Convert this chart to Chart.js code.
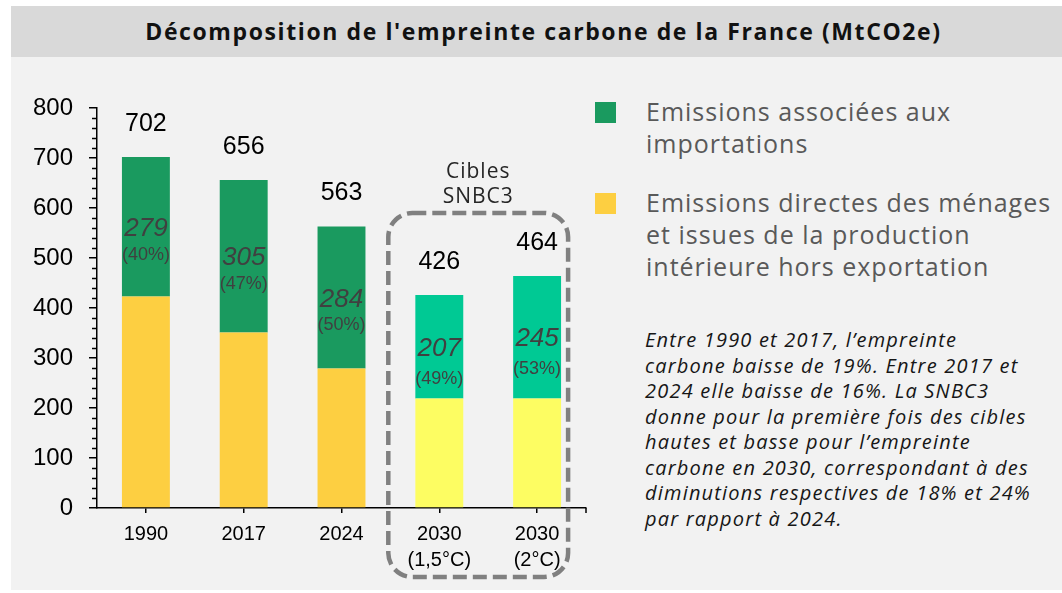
<!DOCTYPE html>
<html>
<head>
<meta charset="utf-8">
<script src="https://cdn.jsdelivr.net/npm/chart.js@4.4.1/dist/chart.umd.min.js"></script>
<style>
  body { margin: 0; background: #fff; width: 1062px; height: 593px; overflow: hidden; position: relative; font-family: "Open Sans", sans-serif; }
  #panel { position: absolute; left: 11px; top: 57px; right: 0; height: 533px; background: #f2f2f2; }
  #title { position: absolute; left: 11px; top: 6px; right: 0; height: 51px; background: #d9d9d9;
           line-height: 51px; text-align: center; font-weight: bold; font-size: 23px; letter-spacing: 1.6px; color: #111; padding-left: 14px; box-sizing: border-box; }
  #wrap { position: absolute; left: 0; top: 0; width: 1062px; height: 593px; }
  .sq { position: absolute; left: 595px; width: 21px; height: 21px; }
  .leg { position: absolute; left: 646px; font-size: 25px; letter-spacing: 1px; line-height: 32px; color: #595959; white-space: nowrap; }
  #note { position: absolute; left: 645px; top: 327px; font-size: 20px; letter-spacing: 1.2px; line-height: 25.5px; font-style: italic; color: #161616; white-space: nowrap; }
</style>
</head>
<body>
<div id="panel"></div>
<div id="title">Décomposition de l'empreinte carbone de la France (MtCO2e)</div>
<div class="sq" style="top:102px;background:#1a9a5f"></div>
<div class="leg" style="top:95px">Emissions associées aux<br>importations</div>
<div class="sq" style="top:193px;background:#fdcf41"></div>
<div class="leg" style="top:186px">Emissions directes des ménages<br>et issues de la production<br>intérieure hors exportation</div>
<div id="note">Entre 1990 et 2017, l’empreinte<br>carbone baisse de 19%. Entre 2017 et<br>2024 elle baisse de 16%. La SNBC3<br>donne pour la première fois des cibles<br>hautes et basse pour l’empreinte<br>carbone en 2030, correspondant à des<br>diminutions respectives de 18% et 24%<br>par rapport à 2024.</div>
<div id="wrap"><canvas id="myChart"></canvas></div>
<script>
const categories = ['1990', '2017', '2024', ['2030', '(1,5°C)'], ['2030', '(2°C)']];
const domestic = [423, 351, 279, 219, 219];
const imports = [279, 305, 284, 207, 245];
const totals = [702, 656, 563, 426, 464];
const shares = ['(40%)', '(47%)', '(50%)', '(49%)', '(53%)'];
const yTicks = [0, 100, 200, 300, 400, 500, 600, 700, 800];

const ARIAL = "Arial, 'Liberation Sans', sans-serif";

const extras = {
    id: 'extras',
    afterDatasetsDraw(chart) {
        const ctx = chart.ctx;
        const x = chart.scales.x, y = chart.scales.y;
        const meta = chart.getDatasetMeta(1);
        ctx.save();
        ctx.textAlign = 'center';
        ctx.textBaseline = 'middle';
        meta.data.forEach((bar, i) => {
            ctx.fillStyle = '#000';
            ctx.font = '25px ' + ARIAL;
            ctx.fillText(totals[i], bar.x, bar.y - 33);
            const mid = (bar.y + bar.base) / 2;
            ctx.fillStyle = '#404040';
            ctx.font = 'italic 26px ' + ARIAL;
            ctx.fillText(imports[i], bar.x, mid + 2);
            ctx.font = '18px ' + ARIAL;
            ctx.fillText(shares[i], bar.x, mid + (i >= 3 ? 32 : 28));
        });

        // minor ticks on y axis
        ctx.strokeStyle = '#000';
        ctx.lineWidth = 1.5;
        for (let v = 0; v <= 800; v += 20) {
            if (v % 100 === 0) continue;
            const py = Math.round(y.getPixelForValue(v)) + 0.5;
            ctx.beginPath();
            ctx.moveTo(x.left - 5, py);
            ctx.lineTo(x.left, py);
            ctx.stroke();
        }
        // end tick on x axis
        ctx.beginPath();
        ctx.moveTo(x.right, y.bottom);
        ctx.lineTo(x.right, y.bottom + 5);
        ctx.stroke();

        // target box around the 2030 bars
        const left = x.getPixelForValue(3) - 51;
        const right = x.getPixelForValue(4) + 31;
        const top = y.getPixelForValue(590);
        const bottom = y.bottom + 69;
        ctx.strokeStyle = '#808080';
        ctx.lineWidth = 4.5;
        ctx.setLineDash([14, 6]);
        ctx.beginPath();
        ctx.roundRect(left, top, right - left, bottom - top, 24);
        ctx.stroke();
        ctx.setLineDash([]);

        const cx = (left + right) / 2;
        ctx.fillStyle = '#262626';
        ctx.font = "21px 'Open Sans', sans-serif";
        ctx.letterSpacing = '1px';
        ctx.fillText('Cibles', cx, top - 41);
        ctx.fillText('SNBC3', cx, top - 16);
        ctx.restore();
    }
};

new Chart(document.querySelector('#myChart'), {
    type: 'bar',
    data: {
        labels: categories,
        datasets: [
            {
                label: 'Emissions directes des ménages et issues de la production intérieure hors exportation',
                data: domestic,
                backgroundColor: ['#fdcf41', '#fdcf41', '#fdcf41', '#fdfd62', '#fdfd62'],
                categoryPercentage: 1,
                barPercentage: 0.49,
            },
            {
                label: 'Emissions associées aux importations',
                data: imports,
                backgroundColor: ['#1a9a5f', '#1a9a5f', '#1a9a5f', '#00c994', '#00c994'],
                categoryPercentage: 1,
                barPercentage: 0.49,
            }
        ]
    },
    options: {
        responsive: true,
        maintainAspectRatio: false,
        animation: false,
        layout: {
            padding: { left: 0, top: 108, right: 476, bottom: 0 },
        },
        scales: {
            x: {
                stacked: true,
                offset: true,
                border: { color: '#000', width: 1.5 },
                grid: { offset: false, drawOnChartArea: false, tickLength: 5, color: '#000', lineWidth: 1.5 },
                ticks: { color: '#000', font: { family: ARIAL, size: 20, lineHeight: '26px' }, padding: 8, maxRotation: 0 },
                afterFit(scale) { scale.height = 85; },
            },
            y: {
                stacked: true,
                min: 0,
                max: 800,
                border: { color: '#000', width: 1.5 },
                grid: { drawOnChartArea: false, tickLength: 8, color: '#000', lineWidth: 1.5 },
                ticks: {
                    stepSize: 100,
                    color: '#000',
                    font: { family: ARIAL, size: 24 },
                    padding: 16,
                    callback: (v) => yTicks.includes(v) ? v : '',
                },
                afterFit(scale) { scale.width = 97; },
            },
        },
        plugins: {
            legend: { display: false },
            tooltip: { enabled: false },
        },
    },
    plugins: [extras],
});
</script>
</body>
</html>
